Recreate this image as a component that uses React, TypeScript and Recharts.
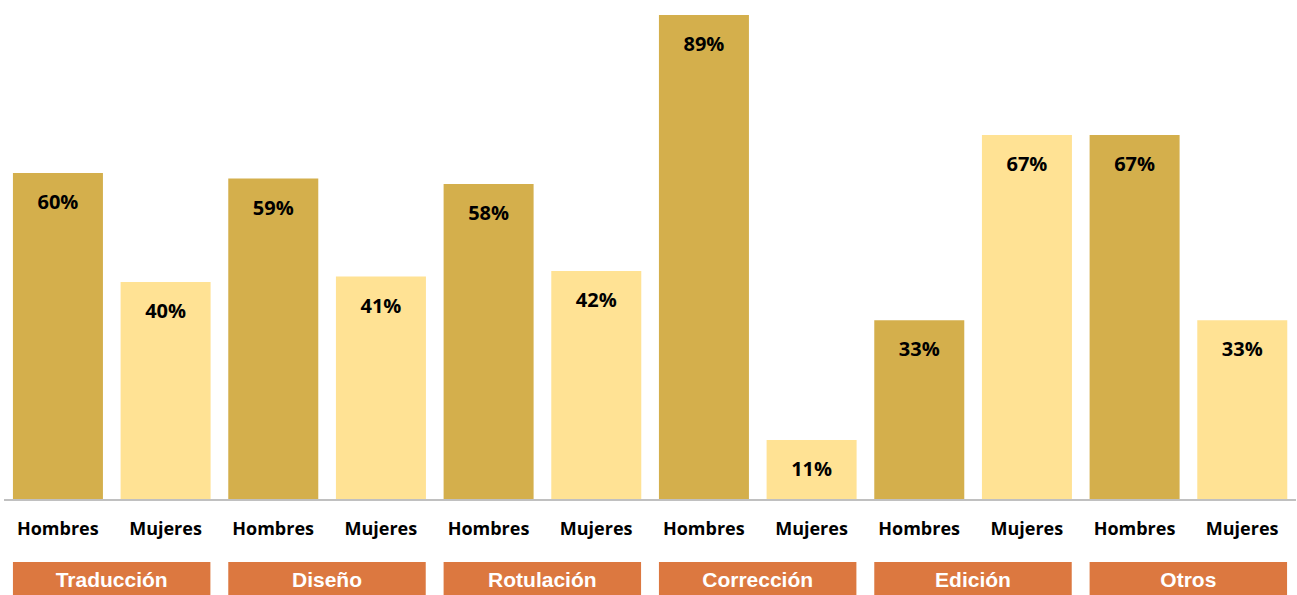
import React from 'react';
import { BarChart, Bar, XAxis, YAxis, Cell, LabelList } from 'recharts';

const categories = ['Traducción', 'Diseño', 'Rotulación', 'Corrección', 'Edición', 'Otros'];
const genders = ['Hombres', 'Mujeres'];
const hombres = [60, 59, 58, 89, 33, 67];
const mujeres = [40, 41, 42, 11, 67, 33];

const colors = ['#D4AF4C', '#FFE294'];

const data = categories.flatMap((cat, i) => [
  { group: cat, gender: genders[0], value: hombres[i] },
  { group: cat, gender: genders[1], value: mujeres[i] },
]);

const W = 1297;
const H = 595;
const margin = { top: 15, right: 1, left: 4, bottom: 0 };
const groupBand = (W - margin.left - margin.right) / categories.length;
const gapPct = 0.083;

const GenderTick = (props: any) => {
  const { x, y, payload } = props;
  return (
    <text x={x} y={y + 28} textAnchor="middle" dominantBaseline="central"
      fontFamily="Open Sans" fontWeight="bold" fontSize={18} fill="#000">
      {payload.value}
    </text>
  );
};

const GroupTick = (props: any) => {
  const { x, y, payload } = props;
  const w = groupBand * (1 - gapPct);
  return (
    <g>
      <rect x={x - w / 2} y={y + 17} width={w} height={33} fill="#DC7840" />
      <text x={x} y={y + 34} textAnchor="middle" dominantBaseline="central"
        fontFamily="Liberation Sans" fontWeight="bold" fontSize={21} fill="#fff">
        {payload.value}
      </text>
    </g>
  );
};

export default function App() {
  return (
    <div>
      <style>{`body{margin:0}`}</style>
      <BarChart width={W} height={H} data={data} margin={margin} barCategoryGap="8.3%">
        <XAxis dataKey="gender" xAxisId="a" allowDuplicatedCategory height={45}
          tickLine={false} tickSize={0} tickMargin={0} interval={0}
          axisLine={{ stroke: '#C0C0C0', strokeWidth: 2 }} tick={<GenderTick />} />
        <XAxis dataKey="group" xAxisId="b" allowDuplicatedCategory={false} height={50}
          tickLine={false} tickSize={0} tickMargin={0} interval={0}
          axisLine={false} tick={<GroupTick />} />
        <YAxis hide domain={[0, 89]} />
        <Bar dataKey="value" xAxisId="a" isAnimationActive={false}>
          {data.map((d, i) => (
            <Cell key={i} fill={colors[i % 2]} />
          ))}
          <LabelList dataKey="value" position="insideTop" offset={22}
            formatter={(v: any) => `${v}%`}
            style={{ fontFamily: 'Open Sans', fontWeight: 'bold', fontSize: 20, fill: '#000' }} />
        </Bar>
      </BarChart>
    </div>
  );
}
